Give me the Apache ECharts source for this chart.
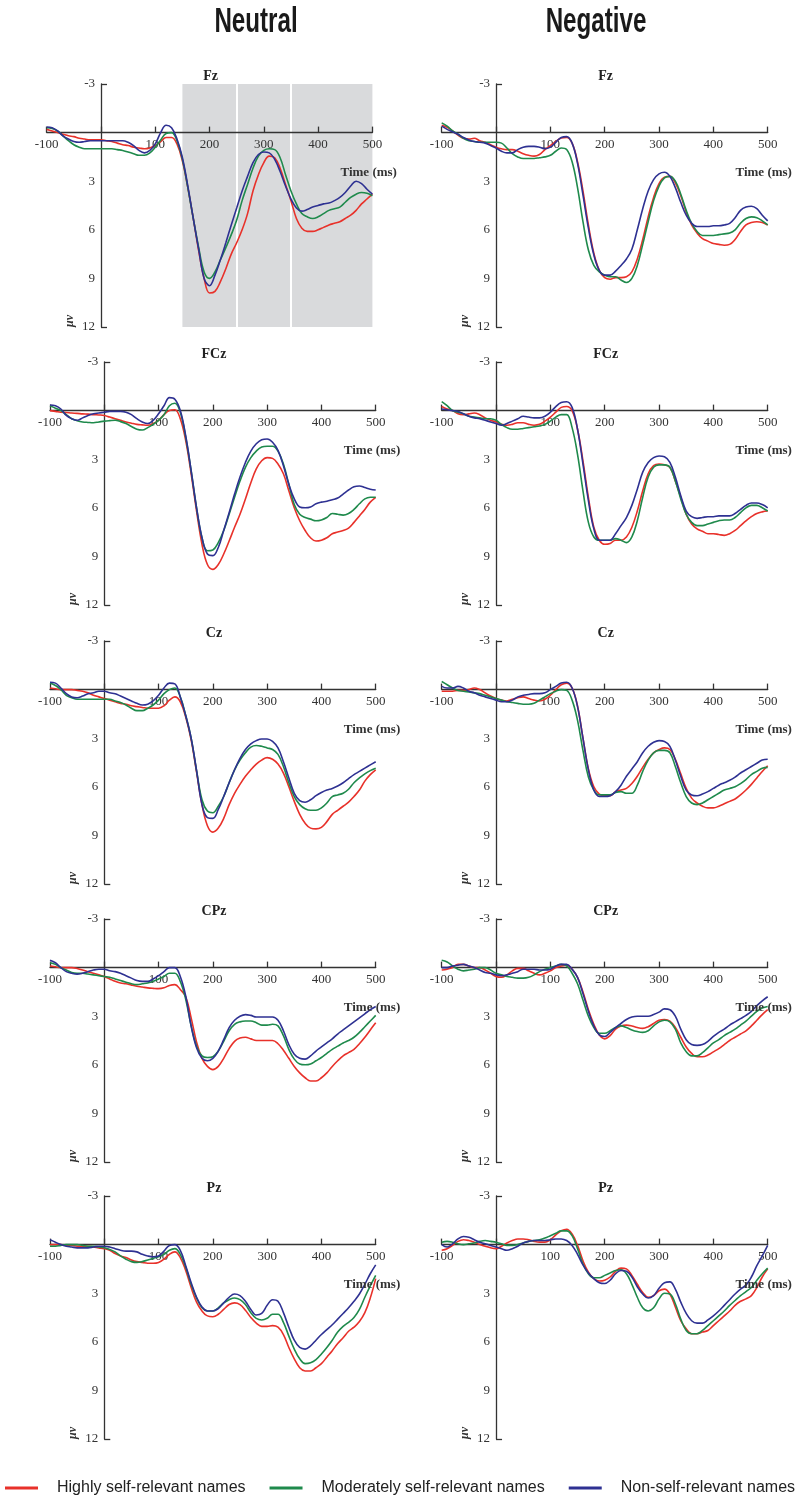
<!DOCTYPE html>
<html>
<head>
<meta charset="utf-8">
<script src="https://cdn.jsdelivr.net/npm/echarts@6/dist/echarts.min.js"></script>
<style>html,body{margin:0;padding:0;background:#fff}#chart{width:800px;height:1505px}</style>
</head>
<body>
<div id="chart"></div>
<script>
// ---- time axis (ms) ----
const times = [-100,-90,-80,-70,-60,-50,-40,-30,-20,-10,0,10,20,30,40,50,60,70,80,90,100,110,120,130,140,150,160,170,180,190,200,210,220,230,240,250,260,270,280,290,300,310,320,330,340,350,360,370,380,390,400,410,420,430,440,450,460,470,480,490,500];
const xRange = [-100, 500];
const yRange = [-3, 12];
const yEndTicks = [-3, 12];
const electrodes = ['Fz', 'FCz', 'Cz', 'CPz', 'Pz'];
const conditions = ['Neutral', 'Negative'];
const seriesNames = ['Highly self-relevant names', 'Moderately self-relevant names', 'Non-self-relevant names'];
const shadedWindows = [[150, 250], [250, 350], [350, 500]];

// ---- Neutral ----
const neutralFzHigh = [-0.2,-0.1,0.0,0.1,0.2,0.25,0.35,0.4,0.45,0.45,0.45, 0.5,0.55,0.65,0.75,0.8,0.9,0.95,1.0,0.95,0.8, 0.55,0.3,0.3,0.7,1.75,3.4,5.3,7.3,9.0,9.9, 9.8,9.2,8.4,7.5,6.8,6.0,5.0,3.6,2.6,1.85, 1.45,1.55,2.2,3.2,4.2,5.3,5.9,6.1,6.1,6.0, 5.85,5.7,5.6,5.5,5.3,5.1,4.8,4.4,4.1,3.8];
const neutralFzMod = [-0.3,-0.25,-0.1,0.2,0.5,0.75,0.9,1.0,1.0,1.0,1.0, 1.0,1.0,1.05,1.1,1.2,1.3,1.4,1.4,1.25,0.9, 0.45,0.05,0.0,0.5,1.65,3.4,5.3,7.1,8.6,9.0, 8.6,7.85,7.1,6.3,5.4,4.2,3.2,2.2,1.45,1.1, 1.0,1.05,1.55,2.6,3.6,4.4,5.0,5.2,5.3,5.2, 5.0,4.8,4.7,4.6,4.3,4.0,3.8,3.7,3.75,3.9];
const neutralFzNon = [-0.35,-0.3,-0.1,0.2,0.4,0.55,0.6,0.55,0.5,0.5,0.5, 0.5,0.5,0.5,0.5,0.6,0.8,1.1,1.25,1.1,0.7, 0.0,-0.45,-0.3,0.4,1.55,3.3,5.3,7.2,9.0,9.45, 8.8,7.85,6.8,5.7,4.65,3.6,2.7,1.85,1.35,1.2, 1.25,1.65,2.4,3.3,4.1,4.65,4.85,4.75,4.6,4.5, 4.4,4.35,4.2,4.0,3.7,3.3,3.0,3.15,3.5,3.8];

const neutralFCzHigh = [0,0.05,0.1,0.12,0.15,0.17,0.2,0.22,0.25,0.27,0.3, 0.4,0.5,0.6,0.7,0.78,0.85,0.88,0.9,0.8,0.6, 0.25,0.0,-0.05,0.5,1.85,3.9,6.2,8.25,9.5,9.8, 9.5,8.85,8.05,7.2,6.4,5.45,4.45,3.6,3.1,2.9, 2.95,3.3,3.9,4.95,6.0,6.8,7.4,7.85,8.05,8.0, 7.85,7.6,7.5,7.4,7.25,6.9,6.5,6.1,5.65,5.35];
const neutralFCzMod = [-0.3,-0.15,0.0,0.25,0.5,0.62,0.7,0.73,0.75,0.7,0.65, 0.62,0.6,0.68,0.8,0.98,1.15,1.2,1.05,0.85,0.6, 0.25,-0.3,-0.45,0.1,1.65,3.7,6.0,7.85,8.65,8.6, 8.15,7.4,6.4,5.35,4.35,3.5,2.9,2.5,2.25,2.2, 2.2,2.5,3.3,4.55,5.8,6.4,6.6,6.7,6.8,6.75, 6.6,6.35,6.4,6.45,6.35,6.1,5.75,5.45,5.35,5.35];
const neutralFCzNon = [-0.35,-0.3,-0.1,0.3,0.5,0.6,0.45,0.3,0.2,0.15,0.1, 0.05,0.05,0.05,0.1,0.25,0.5,0.7,0.8,0.6,0.2, -0.3,-0.8,-0.7,0.0,1.55,3.7,6.0,7.85,8.85,8.95, 8.45,7.4,6.3,5.15,4.1,3.2,2.5,2.05,1.8,1.75, 1.95,2.45,3.4,4.55,5.45,5.95,6.0,5.95,5.75,5.65, 5.6,5.5,5.4,5.15,4.9,4.7,4.65,4.75,4.85,4.9];

const neutralCzHigh = [-0.1,-0.05,0,0,0,0.05,0.1,0.2,0.35,0.45,0.55, 0.65,0.75,0.85,0.9,1.0,1.05,1.1,1.15,1.15,1.15, 1.0,0.65,0.45,0.75,1.7,3.1,5.1,7.1,8.4,8.8, 8.55,7.95,7.1,6.4,5.85,5.35,4.95,4.6,4.35,4.2, 4.3,4.6,5.15,6.0,6.9,7.7,8.25,8.55,8.6,8.5, 8.15,7.7,7.45,7.2,6.95,6.6,6.2,5.65,5.25,4.95];
const neutralCzMod = [-0.4,-0.25,0,0.35,0.5,0.6,0.6,0.6,0.6,0.6,0.6, 0.6,0.7,0.8,0.95,1.15,1.3,1.3,1.15,0.95,0.65, 0.25,0,-0.1,0.45,1.6,3.0,5.0,6.8,7.5,7.6, 7.2,6.6,5.75,4.95,4.35,3.9,3.55,3.45,3.5,3.6, 3.7,4.0,4.75,5.75,6.6,7.1,7.35,7.45,7.45,7.3, 7.0,6.6,6.5,6.4,6.15,5.75,5.45,5.2,5.0,4.85];
const neutralCzNon = [-0.45,-0.4,-0.1,0.25,0.45,0.5,0.4,0.25,0.2,0.1,0.1, 0.2,0.25,0.4,0.55,0.7,0.85,0.95,0.9,0.7,0.35, -0.1,-0.4,-0.35,0.45,1.6,3.0,5.0,7.1,7.9,7.95, 7.4,6.6,5.75,4.95,4.25,3.7,3.35,3.15,3.05,3.05, 3.2,3.6,4.45,5.45,6.4,6.85,6.95,6.8,6.55,6.35, 6.2,6.1,5.95,5.75,5.5,5.25,5.05,4.85,4.65,4.45];

const neutralCPzHigh = [-0.1,-0.05,0,0,0,0.05,0.15,0.25,0.35,0.45,0.55, 0.7,0.85,0.95,1.0,1.08,1.15,1.2,1.25,1.28,1.3, 1.25,1.1,1.05,1.35,1.8,3.1,4.6,5.6,6.1,6.3, 6.1,5.6,5.0,4.55,4.35,4.3,4.4,4.5,4.5,4.5, 4.5,4.7,5.1,5.6,6.1,6.5,6.8,7.0,7.0,6.8, 6.5,6.1,5.75,5.45,5.25,5.05,4.7,4.3,3.85,3.4];
const neutralCPzMod = [-0.3,-0.2,0,0.15,0.3,0.35,0.35,0.4,0.45,0.5,0.55, 0.6,0.7,0.8,0.9,1.0,1.05,1.0,0.95,0.85,0.7, 0.55,0.35,0.35,0.85,1.95,3.6,4.85,5.45,5.55,5.5, 5.15,4.55,3.9,3.5,3.35,3.3,3.3,3.4,3.55,3.55, 3.5,3.6,4.2,5.05,5.65,5.95,6.0,5.95,5.75,5.55, 5.3,5.05,4.85,4.65,4.5,4.3,4.0,3.65,3.3,2.95];
const neutralCPzNon = [-0.45,-0.3,0,0.25,0.35,0.4,0.35,0.25,0.15,0.1,0.1, 0.2,0.25,0.35,0.5,0.65,0.8,0.85,0.85,0.7,0.5, 0.25,0,0,0.55,1.75,3.6,4.95,5.6,5.75,5.6, 5.15,4.45,3.7,3.25,3.0,2.9,2.95,3.05,3.05,3.05, 3.05,3.25,3.9,4.75,5.35,5.6,5.65,5.45,5.15,4.9, 4.65,4.4,4.1,3.85,3.6,3.35,3.1,2.85,2.6,2.4];

const neutralPzHigh = [0,0,0,0.05,0.05,0.1,0.1,0.1,0.15,0.2,0.25, 0.35,0.55,0.7,0.8,0.95,1.05,1.1,1.15,1.15,1.1, 0.9,0.6,0.45,0.8,1.6,2.65,3.55,4.1,4.4,4.45, 4.3,4.0,3.7,3.6,3.7,4.05,4.5,4.85,5.05,5.05, 5.0,5.1,5.55,6.35,7.05,7.6,7.8,7.8,7.6,7.35, 6.95,6.55,6.1,5.75,5.35,5.1,4.75,4.2,3.3,2.1];
const neutralPzMod = [0.1,0.1,0.05,0,0,0,0.05,0.1,0.1,0.15,0.2, 0.3,0.45,0.7,0.9,1.05,1.1,1.05,0.95,0.85,0.75, 0.6,0.35,0.25,0.6,1.4,2.45,3.3,3.9,4.1,4.1, 3.9,3.6,3.4,3.3,3.4,3.7,4.2,4.55,4.65,4.55, 4.3,4.3,4.8,5.65,6.45,7.05,7.35,7.3,7.1,6.75, 6.35,5.9,5.4,5.05,4.8,4.5,4.0,3.25,2.55,1.9];
const neutralPzNon = [-0.3,-0.15,0,0.1,0.15,0.2,0.2,0.2,0.15,0.1,0.1, 0.15,0.25,0.35,0.4,0.4,0.45,0.6,0.7,0.75,0.7, 0.4,0.05,0,0.35,1.3,2.35,3.25,3.85,4.1,4.1, 3.95,3.6,3.25,3.05,3.15,3.5,4.0,4.35,4.25,3.75, 3.4,3.5,4.2,5.1,5.9,6.35,6.45,6.25,5.9,5.55, 5.25,4.95,4.6,4.25,3.9,3.5,3.05,2.45,1.8,1.25];

// ---- Negative ----
const negativeFzHigh = [-0.45,-0.33,-0.1,0.15,0.35,0.4,0.35,0.5,0.6,0.75,0.9, 1.0,1.05,1.05,1.15,1.3,1.4,1.45,1.35,1.05,0.8, 0.55,0.33,0.3,0.65,1.8,3.6,5.7,7.45,8.5,8.95, 9.05,8.95,8.95,8.9,8.6,7.8,6.6,5.2,4.0,3.15, 2.75,2.7,3.1,3.9,4.9,5.7,6.2,6.55,6.7,6.85, 6.9,6.95,6.9,6.6,6.1,5.7,5.55,5.5,5.55,5.7];
const negativeFzMod = [-0.6,-0.4,-0.1,0.1,0.35,0.5,0.55,0.6,0.6,0.6,0.6, 0.65,0.95,1.3,1.5,1.6,1.6,1.6,1.55,1.5,1.4, 1.15,0.95,1.05,1.8,3.4,5.5,7.25,8.2,8.6,8.8, 8.9,8.9,9.1,9.25,9.0,8.2,6.9,5.5,4.2,3.3, 2.8,2.7,3.0,3.8,4.8,5.6,6.1,6.35,6.35,6.35, 6.3,6.25,6.2,6.0,5.6,5.3,5.2,5.25,5.45,5.7];
const negativeFzNon = [-0.4,-0.2,-0.05,0.1,0.3,0.45,0.55,0.6,0.65,0.8,0.95, 1.15,1.25,1.25,1.05,0.9,0.85,0.85,0.9,1.0,0.9, 0.6,0.3,0.25,0.65,1.9,3.85,5.9,7.55,8.5,8.8, 8.8,8.55,8.2,7.8,7.2,6.0,4.7,3.6,2.9,2.55, 2.45,2.7,3.4,4.3,5.1,5.6,5.8,5.8,5.8,5.75, 5.75,5.7,5.6,5.25,4.8,4.6,4.55,4.7,5.1,5.45];

const negativeFCzHigh = [-0.25,-0.1,0,0.2,0.25,0.2,0.15,0.25,0.45,0.6,0.7, 0.85,0.9,0.85,0.75,0.75,0.85,0.9,0.85,0.65,0.4, 0.1,-0.2,-0.25,0,1.15,3.1,5.35,7.2,8.0,8.25, 8.2,8.0,8.0,7.8,7.2,6.2,4.95,3.9,3.4,3.3, 3.35,3.5,4.35,5.35,6.4,7.0,7.3,7.45,7.6,7.6, 7.65,7.7,7.6,7.4,7.1,6.8,6.55,6.35,6.25,6.2];
const negativeFCzMod = [-0.55,-0.3,0,0.1,0.2,0.35,0.4,0.45,0.5,0.5,0.6, 0.85,1.05,1.15,1.15,1.1,1.05,1.0,0.95,0.85,0.65, 0.4,0.25,0.25,1.05,2.7,4.95,6.9,7.8,8.0,8.0, 8.0,7.9,8.0,8.15,7.8,6.8,5.35,4.1,3.5,3.35, 3.35,3.5,4.35,5.45,6.4,6.9,7.1,7.1,7.0,6.9, 6.8,6.75,6.75,6.6,6.3,6.0,5.85,5.85,6.0,6.2];
const negativeFCzNon = [-0.1,-0.05,0,0.05,0.2,0.35,0.45,0.5,0.6,0.7,0.8, 0.9,0.8,0.65,0.5,0.35,0.4,0.45,0.45,0.35,0.1, -0.25,-0.5,-0.55,-0.2,1.15,3.3,5.55,7.3,8.0,8.0, 8.0,7.6,7.1,6.6,5.85,4.85,3.8,3.2,2.9,2.8, 2.85,3.2,4.1,5.25,6.2,6.55,6.65,6.6,6.55,6.55, 6.5,6.5,6.5,6.35,6.1,5.85,5.7,5.7,5.8,6.0];

const negativeCzHigh = [0.1,0.1,0.1,0.05,0.05,0,-0.1,0,0.2,0.4,0.55, 0.65,0.7,0.6,0.5,0.45,0.55,0.65,0.7,0.6,0.35, 0,-0.3,-0.4,-0.1,1.0,3.0,4.9,6.0,6.45,6.55, 6.55,6.3,6.2,6.1,5.8,5.35,4.8,4.3,3.9,3.7, 3.6,3.7,4.3,5.2,6.1,6.7,7.0,7.2,7.3,7.3, 7.2,7.05,6.9,6.75,6.5,6.2,5.85,5.45,5.05,4.7];
const negativeCzMod = [-0.5,-0.3,-0.1,0.05,0.1,0.15,0.2,0.25,0.35,0.45,0.55, 0.65,0.75,0.8,0.85,0.9,0.9,0.85,0.65,0.45,0.25, 0.1,0,0.05,0.65,1.9,3.75,5.4,6.2,6.5,6.5, 6.5,6.35,6.3,6.4,6.4,5.9,5.05,4.35,3.9,3.75, 3.75,3.9,4.75,5.75,6.6,7.0,7.1,7.0,6.8,6.6, 6.4,6.2,6.1,6.0,5.8,5.55,5.25,5.05,4.85,4.8];
const negativeCzNon = [-0.2,-0.1,-0.1,-0.2,-0.1,0.1,0.2,0.35,0.45,0.55,0.65, 0.75,0.75,0.65,0.45,0.35,0.3,0.25,0.25,0.2,0, -0.2,-0.4,-0.45,-0.1,1.05,3.0,4.95,6.2,6.6,6.6, 6.55,6.3,5.9,5.35,4.9,4.45,3.9,3.5,3.25,3.15, 3.2,3.5,4.35,5.35,6.2,6.5,6.55,6.45,6.3,6.1, 5.9,5.75,5.6,5.4,5.15,4.95,4.75,4.55,4.35,4.3];

const negativeCPzHigh = [0.15,0.1,0,-0.2,-0.2,-0.1,0,0,0.15,0.35,0.55, 0.6,0.45,0.2,0.05,0.05,0.2,0.35,0.45,0.35,0.2, 0,-0.1,-0.15,0.1,0.6,1.5,2.6,3.5,4.15,4.4, 4.2,3.8,3.6,3.55,3.6,3.7,3.75,3.65,3.45,3.25, 3.2,3.3,3.7,4.3,4.9,5.3,5.5,5.5,5.4,5.2, 5.0,4.75,4.5,4.3,4.1,3.9,3.6,3.25,2.9,2.6];
const negativeCPzMod = [-0.45,-0.35,-0.1,0.1,0.2,0.15,0.1,0,0,0.15,0.35, 0.45,0.55,0.6,0.65,0.65,0.6,0.45,0.25,0.1,0, -0.1,-0.2,-0.1,0.35,1.0,2.0,3.0,3.7,4.05,4.05, 3.9,3.7,3.6,3.7,3.85,3.95,4.0,3.9,3.6,3.35, 3.25,3.35,3.8,4.65,5.2,5.45,5.45,5.25,4.95,4.65, 4.45,4.2,4.0,3.8,3.55,3.3,3.0,2.7,2.5,2.4];
const negativeCPzNon = [0,0,-0.1,-0.15,-0.2,-0.1,0,0.15,0.3,0.35,0.45, 0.5,0.45,0.35,0.25,0.1,0.1,0.1,0.15,0.15,0.1, -0.1,-0.2,-0.2,0.1,0.6,1.6,2.7,3.6,4.15,4.25, 4.0,3.7,3.45,3.2,3.05,3.0,3.0,3.0,2.9,2.75, 2.55,2.6,3.0,3.8,4.45,4.75,4.8,4.75,4.55,4.25, 4.0,3.8,3.55,3.35,3.15,2.95,2.7,2.35,2.05,1.8];

const negativePzHigh = [0.35,0.25,0.05,-0.2,-0.3,-0.25,-0.15,0,0.1,0.2,0.25, 0.1,-0.1,-0.25,-0.35,-0.35,-0.3,-0.2,-0.15,-0.15,-0.3, -0.6,-0.85,-0.95,-0.65,0.05,1.0,1.7,2.1,2.25,2.2, 2.0,1.65,1.45,1.5,1.9,2.45,2.95,3.25,3.15,2.85, 2.75,3.05,3.85,4.7,5.2,5.5,5.5,5.4,5.3,5.0, 4.7,4.4,4.1,3.75,3.5,3.35,3.15,2.65,2.0,1.5];
const negativePzMod = [-0.15,-0.2,-0.15,-0.05,0,-0.05,-0.1,-0.2,-0.25,-0.2,-0.15, -0.05,0.05,0.05,0,-0.1,-0.2,-0.25,-0.3,-0.4,-0.55, -0.7,-0.85,-0.85,-0.55,0.25,1.2,1.8,2.05,2.05,1.9, 1.75,1.6,1.55,1.8,2.45,3.25,3.9,4.1,3.9,3.35, 3.0,3.05,3.65,4.6,5.3,5.5,5.5,5.3,5.0,4.7, 4.4,4.1,3.75,3.45,3.15,2.9,2.65,2.2,1.8,1.45];
const negativePzNon = [0,0.15,-0.05,-0.35,-0.5,-0.45,-0.3,-0.15,-0.05,0.05,0.15, 0.25,0.35,0.25,0.1,-0.1,-0.2,-0.25,-0.25,-0.25,-0.3, -0.35,-0.35,-0.25,0.05,0.6,1.25,1.75,2.1,2.35,2.4, 2.2,1.8,1.6,1.65,2.0,2.6,3.05,3.3,3.15,2.7, 2.35,2.3,2.75,3.55,4.25,4.7,4.85,4.85,4.65,4.4, 4.1,3.75,3.4,3.05,2.75,2.5,2.0,1.3,0.7,0.05];

const panelData = {
  Neutral: {
    Fz: [neutralFzHigh, neutralFzMod, neutralFzNon],
    FCz: [neutralFCzHigh, neutralFCzMod, neutralFCzNon],
    Cz: [neutralCzHigh, neutralCzMod, neutralCzNon],
    CPz: [neutralCPzHigh, neutralCPzMod, neutralCPzNon],
    Pz: [neutralPzHigh, neutralPzMod, neutralPzNon]
  },
  Negative: {
    Fz: [negativeFzHigh, negativeFzMod, negativeFzNon],
    FCz: [negativeFCzHigh, negativeFCzMod, negativeFCzNon],
    Cz: [negativeCzHigh, negativeCzMod, negativeCzNon],
    CPz: [negativeCPzHigh, negativeCPzMod, negativeCPzNon],
    Pz: [negativePzHigh, negativePzMod, negativePzNon]
  }
};

// ---- styling / layout ----
const colors = ['#e8312a', '#1f8a4c', '#2e3192'];
const axisColor = '#333333';
const serif = "'Liberation Serif', 'Times New Roman', serif";
const sans = "'Liberation Sans', Arial, sans-serif";
const rowTops = [84, 362, 641, 919, 1196];
const gridHeight = 243;
const colLefts = [[46.7, 50, 50, 50, 50], [441.7, 441.7, 441.7, 441.7, 441.7]];
const colWidths = [325.7, 326];
const headerCenters = [256, 596];

const grids = [], xAxes = [], yAxes = [], series = [], graphics = [];

conditions.forEach((cond, c) => {
  electrodes.forEach((el, r) => {
    const gi = grids.length;
    const left = colLefts[c][r], top = rowTops[r], width = colWidths[c];
    // axes cross at x = 0 ms and y = 0 uV: shift them from the grid edges
    const xShift = gridHeight * (yRange[1] - 0) / (yRange[1] - yRange[0]);
    const yShift = width * (0 - xRange[0]) / (xRange[1] - xRange[0]);
    grids.push({ left, top, width, height: gridHeight, outerBoundsMode: 'none' });
    xAxes.push({
      type: 'value', gridIndex: gi, min: xRange[0], max: xRange[1], interval: 100,
      position: 'bottom', offset: -xShift, z: 2,
      axisLine: { show: true, onZero: false, lineStyle: { color: axisColor, width: 1.3 } },
      axisTick: { show: true, inside: true, length: 6, lineStyle: { color: axisColor, width: 1.3 } },
      axisLabel: { show: true, showMinLabel: true, showMaxLabel: true, margin: 5,
        color: '#333', fontFamily: serif, fontSize: 13,
        formatter: v => (v === 0 ? '' : String(v)) },
      splitLine: { show: false }
    });
    yAxes.push({
      type: 'value', gridIndex: gi, inverse: true, min: yRange[0], max: yRange[1], interval: 3,
      position: 'left', offset: -yShift, z: 2,
      axisLine: { show: true, onZero: false, lineStyle: { color: axisColor, width: 1.3 } },
      axisTick: { show: true, inside: true, length: 6, customValues: yEndTicks, lineStyle: { color: axisColor, width: 1.3 } },
      axisLabel: { show: true, showMinLabel: true, showMaxLabel: true, margin: 6,
        color: '#333', fontFamily: serif, fontSize: 13,
        formatter: v => (v === 0 ? '' : String(v)) },
      splitLine: { show: false }
    });
    const sets = panelData[cond][el];
    sets.forEach((vals, k) => {
      series.push({
        type: 'line', name: seriesNames[k], xAxisIndex: gi, yAxisIndex: gi,
        data: times.map((t, i) => [t, vals[i]]),
        smooth: 0.4, showSymbol: false, symbol: 'none',
        lineStyle: { color: colors[k], width: 1.6 }, itemStyle: { color: colors[k] },
        z: 3, animation: false
      });
    });
    if (cond === 'Neutral' && el === 'Fz') {
      series.push({
        type: 'line', name: 'shade', xAxisIndex: gi, yAxisIndex: gi, data: [], z: 1, silent: true, animation: false,
        markArea: { silent: true, z: 1, itemStyle: { color: '#d9dadc' },
          data: shadedWindows.map(w => [{ xAxis: w[0] }, { xAxis: w[1] }]) },
        markLine: { silent: true, z: 1, symbol: 'none', label: { show: false },
          lineStyle: { color: '#ffffff', width: 2, type: 'solid' },
          data: shadedWindows.slice(1).map(w => ({ xAxis: w[0] })) }
      });
    }
    const axisX = left + yShift;
    graphics.push({ type: 'text', x: left + 164, y: top - 8, z: 10,
      style: { text: el, font: "bold 14px " + serif, fill: '#222', align: 'center', verticalAlign: 'middle' } });
    graphics.push({ type: 'text', x: left + 322, y: top + 89, z: 10,
      style: { text: 'Time (ms)', font: "bold 13px " + serif, fill: '#333', align: 'center', verticalAlign: 'middle' } });
    graphics.push({ type: 'text', x: axisX - 31, y: top + gridHeight - 6, rotation: Math.PI / 2, z: 10,
      style: { text: '\u03bcv', font: "italic bold 12px " + serif, fill: '#333', align: 'center', verticalAlign: 'middle' } });
  });
});

conditions.forEach((cond, c) => {
  graphics.push({ type: 'text', x: headerCenters[c], y: 22, scaleX: 0.69, z: 10,
    style: { text: cond, font: "bold 35px " + sans, fill: '#1a1a1a', align: 'center', verticalAlign: 'middle' } });
});

const chart = echarts.init(document.getElementById('chart'), null, { renderer: 'canvas' });
chart.setOption({
  animation: false,
  backgroundColor: '#ffffff',
  grid: grids,
  xAxis: xAxes,
  yAxis: yAxes,
  series: series,
  graphic: graphics,
  legend: {
    data: seriesNames, left: 5, top: 1480, width: 795, padding: 0, orient: 'horizontal',
    itemWidth: 33, itemHeight: 3, itemGap: 24, icon: 'rect',
    textStyle: { fontFamily: sans, fontSize: 16, color: '#222', padding: [0, 0, 0, 14] },
    selectedMode: false
  }
});
</script>
</body>
</html>
